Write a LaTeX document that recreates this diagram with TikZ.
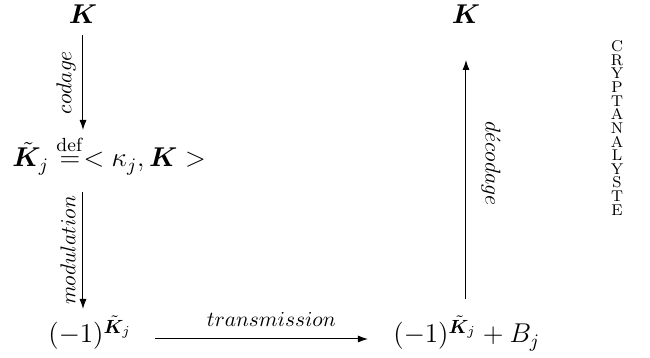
\RequirePackage{fix-cm}
\documentclass[tikz,border=0pt]{standalone}
\usepackage{amsmath,amssymb,bm}
\usetikzlibrary{arrows.meta}
\begin{document}
\begin{tikzpicture}[x=0.5pt,y=-0.5pt,
  lbl/.style={inner sep=0pt, font=\fontsize{13.6}{16}\selectfont},
  arr/.style={-{Latex[length=5pt,width=3.5pt]}, line width=0.5pt},
  elbl/.style={font=\fontsize{10.7}{13}\selectfont, inner sep=3.5pt}]
\useasboundingbox (0,0) rectangle (650,358);
\node[lbl, anchor=base] (K1) at (83,24) {$\bm K$};
\node[lbl, anchor=base] (K2) at (466,24) {$\bm K$};
\node[lbl, anchor=base west] (eq) at (12,167) {$\tilde{\bm K}_j \stackrel{\mathrm{def}}{=} < \kappa_j, \bm K >$};
\node[lbl, anchor=base west] (BL) at (48,343) {$(-1)^{\tilde{\bm K}_j}$};
\node[lbl, anchor=base west] (BR) at (393,343) {$(-1)^{\tilde{\bm K}_j} + B_j$};
\node[inner sep=0pt, anchor=north, align=center, font=\fontsize{7.8}{6.83}\selectfont] (C) at (617,40) {C\\R\\Y\\P\\T\\A\\N\\A\\L\\Y\\S\\T\\E};
\coordinate (c1) at (K1.south |- 0,35);
\coordinate (c2) at (K1.south |- 0,130);
\coordinate (m1) at (K1.south |- 0,192);
\coordinate (m2) at (K1.south |- 0,309);
\coordinate (t1) at (155,339);
\coordinate (t2) at (368,339);
\coordinate (d1) at (K2.south |- 0,299);
\coordinate (d2) at (K2.south |- 0,60);
\draw[arr] (c1) -- (c2) node[elbl, midway, rotate=90, anchor=south] {$codage$};
\draw[arr] (m1) -- (m2) node[elbl, midway, rotate=90, anchor=south] {$modulation$};
\draw[arr] (t1) -- (t2) node[elbl, pos=0.546, anchor=south, inner sep=6pt] {$transmission$};
\draw[arr] (d1) -- (d2) node[elbl, pos=0.567, rotate=-90, anchor=south, inner sep=7.5pt] {$d\acute{e}codage$};
\end{tikzpicture}
\end{document}
